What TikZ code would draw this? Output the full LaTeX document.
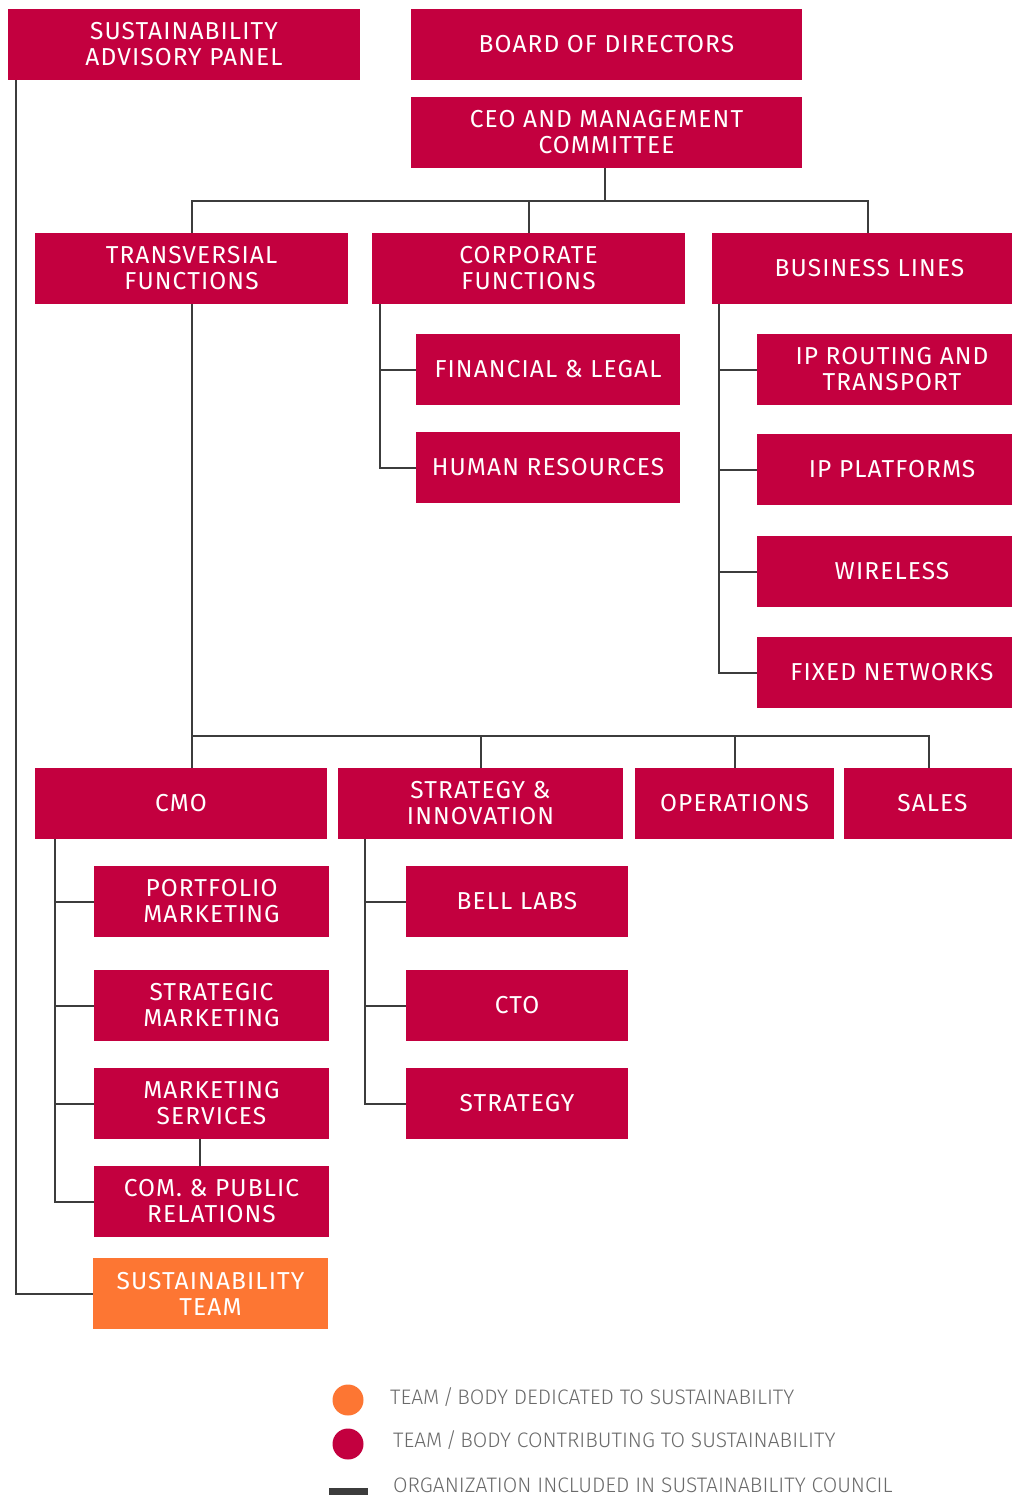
\documentclass[tikz,border=0pt]{standalone}
\usepackage{fontspec}
\setmainfont{Fira Sans}[LetterSpace=4.5]
\newfontfamily\legendfont{Fira Sans Light}
\usetikzlibrary{calc}
\definecolor{crimson}{HTML}{C3003F}
\definecolor{dedicated}{HTML}{FD7633}
\definecolor{wire}{HTML}{3C3C3C}
\definecolor{legendtext}{HTML}{6A6A6A}
\begin{document}
\begin{tikzpicture}[x=1pt,y=-1pt,
  unit/.style={rectangle, fill=crimson, text=white, inner sep=0pt, align=center,
    minimum height=71pt, font=\fontsize{24.5}{26}\selectfont},
  dedicatedunit/.style={unit, fill=dedicated},
  link/.style={draw=wire, line width=2pt},
  legendlabel/.style={anchor=west, inner sep=0pt, text=legendtext, font=\legendfont\fontsize{21}{24}\selectfont}]
\useasboundingbox (0,0) rectangle (1011,1495);

% top level
\node[unit, minimum width=352pt] (sap) at (184,44.5) {SUSTAINABILITY\\ADVISORY PANEL};
\node[unit, minimum width=391pt] (bod) at (606.5,44.5) {BOARD OF DIRECTORS};
\node[unit, minimum width=391pt] (ceo) at (606.5,132.5) {CEO AND MANAGEMENT\\COMMITTEE};

% second level (right-hand boxes run past the page edge)
\node[unit, minimum width=313pt] (tf) at (191.5,268.5) {TRANSVERSIAL\\FUNCTIONS};
\node[unit, minimum width=313pt] (cf) at (528.5,268.5) {CORPORATE\\FUNCTIONS};
\node[unit, minimum width=315pt] (bl) at (869.5,268.5) {BUSINESS LINES};

% corporate functions
\node[unit, minimum width=264pt] (fl) at (548,369.5) {FINANCIAL \& LEGAL};
\node[unit, minimum width=264pt] (hr) at (548,467.5) {HUMAN RESOURCES};

% business lines
\node[unit, minimum width=270pt] (ipr) at (892,369.5) {IP ROUTING AND\\TRANSPORT};
\node[unit, minimum width=270pt] (ipp) at (892,469.5) {IP PLATFORMS};
\node[unit, minimum width=270pt] (wl) at (892,571.5) {WIRELESS};
\node[unit, minimum width=270pt] (fn) at (892,672.5) {FIXED NETWORKS};

% transversal functions
\node[unit, minimum width=292pt] (cmo) at (181,803.5) {CMO};
\node[unit, minimum width=285pt] (si) at (480.5,803.5) {STRATEGY \&\\INNOVATION};
\node[unit, minimum width=199pt] (ops) at (734.5,803.5) {OPERATIONS};
\node[unit, minimum width=177pt] (sales) at (932.5,803.5) {SALES};

% marketing
\node[unit, minimum width=235pt] (pm) at (211.5,901.5) {PORTFOLIO\\MARKETING};
\node[unit, minimum width=235pt] (sm) at (211.5,1005.5) {STRATEGIC\\MARKETING};
\node[unit, minimum width=235pt] (ms) at (211.5,1103.5) {MARKETING\\SERVICES};
\node[unit, minimum width=235pt] (cpr) at (211.5,1201.5) {COM. \& PUBLIC\\RELATIONS};
\node[dedicatedunit, minimum width=235pt] (st) at (210.5,1293.5) {SUSTAINABILITY\\TEAM};

% strategy and innovation
\node[unit, minimum width=222pt] (bell) at (517,901.5) {BELL LABS};
\node[unit, minimum width=222pt] (cto) at (517,1005.5) {CTO};
\node[unit, minimum width=222pt] (strat) at (517,1103.5) {STRATEGY};

% connectors
\coordinate (busA) at (605,201);
\coordinate (busB) at (191,736);
\coordinate (salesDrop) at (929,736);
\coordinate (blDrop) at (868,201);
\coordinate (sapT) at ($(sap.south west)+(8,0)$);
\coordinate (cfT) at ($(cf.south west)+(8,0)$);
\coordinate (blT) at ($(bl.south west)+(7,0)$);
\coordinate (cmoT) at ($(cmo.south west)+(20,0)$);
\coordinate (siT) at ($(si.south west)+(27,0)$);

\draw[link] (sapT) |- (st.west);
\draw[link] (busA |- ceo.south) -- (busA);
\draw[link] (tf.north) |- (blDrop) -- (blDrop |- bl.north);
\draw[link] (cf.north) -- (cf.north |- busA);

\draw[link] (cfT) |- (hr.west);
\draw[link] (fl.west) -- (fl.west -| cfT);

\draw[link] (blT) |- (fn.west);
\draw[link] (ipr.west) -- (ipr.west -| blT);
\draw[link] (ipp.west) -- (ipp.west -| blT);
\draw[link] (wl.west) -- (wl.west -| blT);

\draw[link] (tf.south) -- (tf.south |- cmo.north);
\draw[link] (busB) -- (salesDrop) -- (salesDrop |- sales.north);
\draw[link] (si.north) -- (si.north |- busB);
\draw[link] (ops.north) -- (ops.north |- busB);

\draw[link] (cmoT) |- (cpr.west);
\draw[link] (pm.west) -- (pm.west -| cmoT);
\draw[link] (sm.west) -- (sm.west -| cmoT);
\draw[link] (ms.west) -- (ms.west -| cmoT);
\draw[link] ($(ms.south west)+(106,0)$) -- ($(cpr.north west)+(106,0)$);

\draw[link] (siT) |- (strat.west);
\draw[link] (bell.west) -- (bell.west -| siT);
\draw[link] (cto.west) -- (cto.west -| siT);

% legend
\node[circle, fill=dedicated, minimum size=31pt, inner sep=0pt] (lgA) at (348,1400) {};
\node[circle, fill=crimson, minimum size=31pt, inner sep=0pt] (lgB) at (348,1444) {};
\node[rectangle, fill=wire, minimum width=39pt, minimum height=8pt, inner sep=0pt] (lgC) at (348.5,1492) {};
\node[legendlabel] (lgAt) at (390,1397) {TEAM\,/\,BODY DEDICATED TO SUSTAINABILITY};
\node[legendlabel] (lgBt) at (393,1440) {TEAM\,/\,BODY CONTRIBUTING TO SUSTAINABILITY};
\node[legendlabel] (lgCt) at (393,1485) {ORGANIZATION INCLUDED IN SUSTAINABILITY COUNCIL};
\end{tikzpicture}
\end{document}
